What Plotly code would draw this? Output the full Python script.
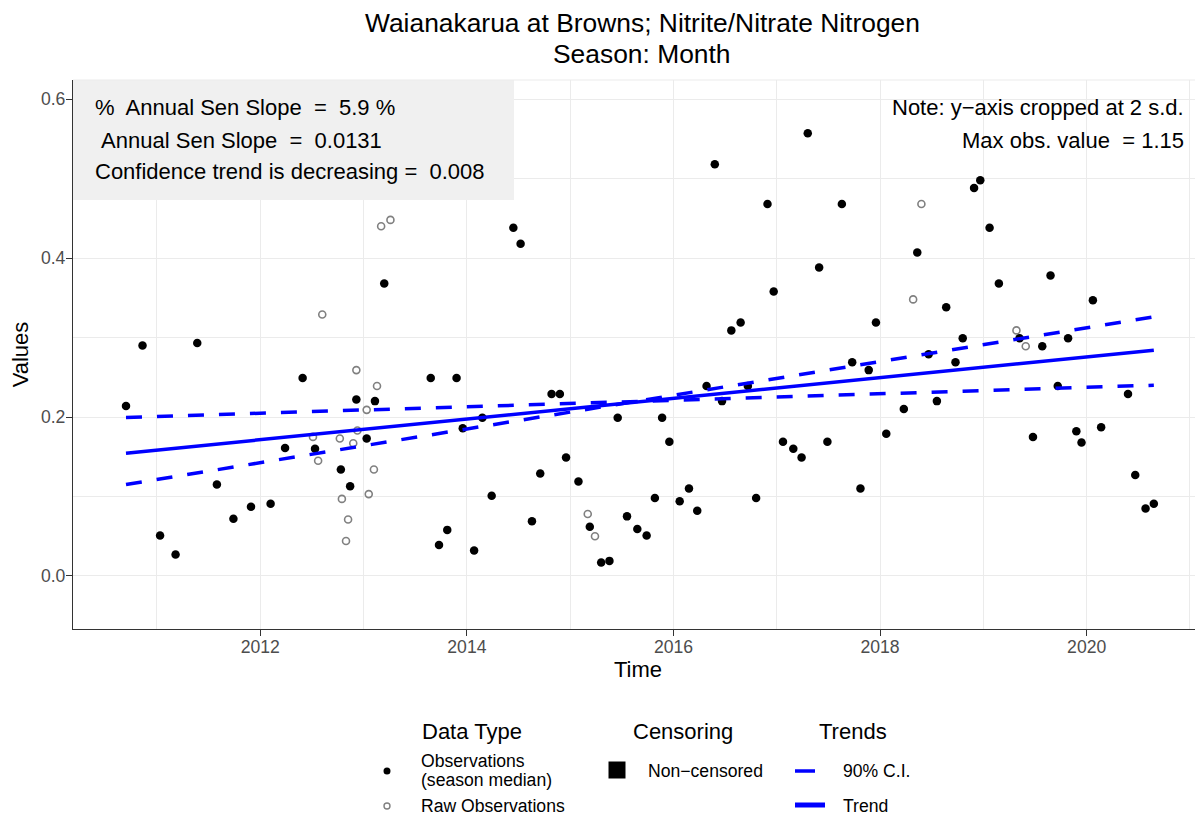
import plotly.graph_objects as go

TITLE_LINES = ["Waianakarua at Browns; Nitrite/Nitrate Nitrogen", "Season: Month"]

# season medians (filled black dots)
median_time = [
    2010.70, 2010.86, 2011.03, 2011.18, 2011.39, 2011.58, 2011.74, 2011.91, 2012.10, 2012.24,
    2012.41, 2012.53, 2012.78, 2012.87, 2012.93, 2013.03, 2013.11, 2013.20, 2013.65, 2013.73,
    2013.81, 2013.90, 2013.96, 2014.07, 2014.15, 2014.24, 2014.45, 2014.52, 2014.63, 2014.71,
    2014.82, 2014.90, 2014.96, 2015.08, 2015.19, 2015.30, 2015.38, 2015.46, 2015.55, 2015.65,
    2015.74, 2015.82, 2015.89, 2015.96, 2016.06, 2016.15, 2016.23, 2016.32, 2016.40, 2016.47,
    2016.56, 2016.65, 2016.72, 2016.80, 2016.91, 2016.97, 2017.06, 2017.16, 2017.24, 2017.30,
    2017.41, 2017.49, 2017.63, 2017.73, 2017.81, 2017.89, 2017.96, 2018.06, 2018.23, 2018.36,
    2018.47, 2018.55, 2018.64, 2018.73, 2018.80, 2018.91, 2018.97, 2019.06, 2019.15, 2019.35,
    2019.48, 2019.57, 2019.65, 2019.72, 2019.82, 2019.90, 2019.95, 2020.06, 2020.14, 2020.40,
    2020.47, 2020.57, 2020.65,
]
median_value = [
    0.214, 0.290, 0.051, 0.027, 0.293, 0.115, 0.072, 0.087, 0.091, 0.161,
    0.249, 0.160, 0.134, 0.113, 0.222, 0.173, 0.220, 0.368, 0.249, 0.039,
    0.058, 0.249, 0.186, 0.032, 0.199, 0.101, 0.438, 0.418, 0.069, 0.129,
    0.229, 0.229, 0.149, 0.119, 0.062, 0.017, 0.019, 0.199, 0.075, 0.059,
    0.051, 0.098, 0.199, 0.169, 0.094, 0.110, 0.082, 0.239, 0.518, 0.220,
    0.309, 0.319, 0.239, 0.098, 0.468, 0.358, 0.169, 0.160, 0.149, 0.557,
    0.388, 0.169, 0.468, 0.269, 0.110, 0.259, 0.319, 0.179, 0.210, 0.407,
    0.279, 0.220, 0.338, 0.269, 0.299, 0.488, 0.498, 0.438, 0.368, 0.299,
    0.175, 0.289, 0.378, 0.239, 0.299, 0.182, 0.168, 0.347, 0.187, 0.229,
    0.127, 0.085, 0.091,
]

# raw observations (open grey circles)
raw_time = [
    2012.51, 2012.56, 2012.60, 2012.77, 2012.79, 2012.83, 2012.85, 2012.90, 2012.93, 2012.94,
    2013.03, 2013.05, 2013.10, 2013.13, 2013.17, 2013.26, 2015.17, 2015.24, 2018.32, 2018.40,
    2019.32, 2019.41,
]
raw_value = [
    0.175, 0.145, 0.329, 0.173, 0.097, 0.044, 0.071, 0.167, 0.259, 0.183,
    0.209, 0.103, 0.134, 0.239, 0.440, 0.448, 0.078, 0.050, 0.348, 0.468,
    0.309, 0.289,
]

trend_time = [2010.70, 2020.65]
trend_value = [0.1545, 0.284]
ci_a_value = [0.1995, 0.240]
ci_b_value = [0.115, 0.326]

STATS_LINES = [
    "%\u00a0 Annual Sen Slope\u00a0 =\u00a0 5.9 %",
    "\u00a0Annual Sen Slope\u00a0 =\u00a0 0.0131",
    "Confidence trend is decreasing =\u00a0 0.008",
]
NOTE_LINES = ["Note: y\u2212axis cropped at 2 s.d.", "Max obs. value\u00a0 = 1.15"]

FONT = "Liberation Sans, Arial, sans-serif"
BLUE = "#0000FF"

# the page body has an 8px margin, so the figure is drawn 8px smaller
PAGE = 8
FIG_W, FIG_H = 1203 - PAGE, 816 - PAGE
# plot panel in screen pixels
L, R, T, B = 73, 1203, 80, 629
W, H = R - L, B - T


def px(x):
    return (x - L) / W


def py(y):
    return (B - y) / H


fig = go.Figure()
fig.add_trace(go.Scatter(
    x=raw_time, y=raw_value, mode="markers", showlegend=False,
    marker=dict(symbol="circle-open", size=7, color="#808080", line=dict(width=1.6)),
))
fig.add_trace(go.Scatter(
    x=median_time, y=median_value, mode="markers", showlegend=False,
    marker=dict(size=8.5, color="black"),
))
for vals in (ci_a_value, ci_b_value):
    fig.add_trace(go.Scatter(
        x=trend_time, y=vals, mode="lines", showlegend=False,
        line=dict(color=BLUE, width=3.5, dash="16px,15px"),
    ))
fig.add_trace(go.Scatter(
    x=trend_time, y=trend_value, mode="lines", showlegend=False,
    line=dict(color=BLUE, width=3.5),
))

shapes = [
    # stats box
    dict(type="rect", xref="paper", yref="paper", x0=0, x1=px(514), y0=py(200), y1=1,
         fillcolor="#F0F0F0", line=dict(width=0), layer="above"),
    dict(type="line", xref="paper", yref="paper", x0=0, x1=1, y0=1, y1=1,
         line=dict(color="#EBEBEB", width=1)),
]

annotations = []
for text, y in zip(TITLE_LINES, (23, 54)):
    annotations.append(dict(text=text, x=px(642), y=py(y), xanchor="center", yanchor="middle",
                            font=dict(size=26.4, color="black")))
for text, y in zip(STATS_LINES, (107, 140, 171)):
    annotations.append(dict(text=text, x=px(93), y=py(y), xanchor="left", yanchor="middle",
                            font=dict(size=22, color="black")))
for text, y in zip(NOTE_LINES, (107, 140)):
    annotations.append(dict(text=text, x=px(1186), y=py(y), xanchor="right", yanchor="middle",
                            font=dict(size=22, color="black")))

# legend drawn by hand: three titled groups under the panel
leg = [
    ("Data Type", 472, 731, "center", 22),
    ("Censoring", 683, 731, "center", 22),
    ("Trends", 853, 731, "center", 22),
    ("Observations", 419, 761, "left", 17.6),
    ("(season median)", 419, 780, "left", 17.6),
    ("Raw Observations", 419, 806, "left", 17.6),
    ("Non\u2212censored", 646, 771, "left", 17.6),
    ("90% C.I.", 841, 771, "left", 17.6),
    ("Trend", 841, 806, "left", 17.6),
]
for text, x, y, anchor, size in leg:
    annotations.append(dict(text=text, x=px(x), y=py(y), xanchor=anchor, yanchor="middle",
                            font=dict(size=size, color="black")))
for a in annotations:
    a.update(xref="paper", yref="paper", showarrow=False)


def key(kind, cx, cy, x0, x1, y0, y1, **style):
    return dict(type=kind, xref="paper", yref="paper", xsizemode="pixel", ysizemode="pixel",
                xanchor=px(cx), yanchor=py(cy), x0=x0, x1=x1, y0=y0, y1=y1, **style)


shapes += [
    key("circle", 387, 771, -3.5, 3.5, -3.5, 3.5, fillcolor="black", line=dict(width=0)),
    key("circle", 387, 806, -3, 3, -3, 3, line=dict(color="#808080", width=1.4)),
    key("rect", 617, 770, -8.5, 8.5, -8.5, 8.5, fillcolor="black", line=dict(width=0)),
    key("line", 805, 771, -10, 10, 0, 0, line=dict(color=BLUE, width=3.5)),
    key("line", 810, 805, -15, 15, 0, 0, line=dict(color=BLUE, width=5)),
]

axis_common = dict(
    showline=True, linecolor="#333333", linewidth=1.2,
    ticks="outside", ticklen=6, tickcolor="#333333", tickwidth=1.2,
    tickfont=dict(size=17.6, color="#4D4D4D"),
    showgrid=True, gridcolor="#EBEBEB", gridwidth=1.1, zeroline=False,
)

fig.update_layout(
    width=FIG_W, height=FIG_H,
    font=dict(family=FONT, color="black"),
    paper_bgcolor="white", plot_bgcolor="white",
    margin=dict(l=L - PAGE, r=1203 - R, t=T - PAGE, b=816 - B, pad=0),
    xaxis=dict(range=[2010.187, 2021.126], tick0=2012, dtick=2, ticklabelstandoff=-4,
               minor=dict(dtick=1, tick0=2011, showgrid=True, gridcolor="#EBEBEB", gridwidth=0.6),
               title=dict(text="Time", font=dict(size=22), standoff=4), **axis_common),
    yaxis=dict(range=[-0.0667, 0.624], tick0=0, dtick=0.2, tickformat=".1f", ticklabelstandoff=-3,
               minor=dict(dtick=0.1, tick0=0, showgrid=True, gridcolor="#EBEBEB", gridwidth=0.6),
               title=dict(text="Values", font=dict(size=22), standoff=6), **axis_common),
    shapes=shapes,
    annotations=annotations,
)

fig.write_html("out.html")
